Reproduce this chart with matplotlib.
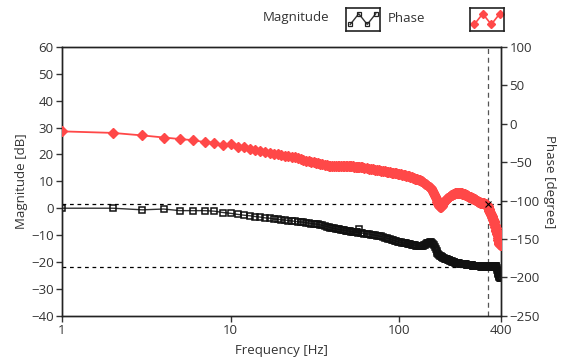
import matplotlib
matplotlib.use("Agg")
import matplotlib.pyplot as plt
import numpy as np

plt.rcParams['font.family'] = ['Open Sans', 'DejaVu Sans']

# measured frequency points [Hz]
freq = list(range(1, 61)) + list(range(62, 401, 2))

# magnitude [dB]
magnitude = [
    0.0, 0.0, -0.6, -0.3, -0.9, -0.9, -0.9, -1.1, -1.6, -1.9,
    -2.3, -2.6, -2.8, -3.1, -3.3, -3.6, -3.7, -4.0, -4.1, -4.3,
    -4.4, -4.6, -4.7, -4.9, -5.0, -5.1, -5.2, -5.4, -5.5, -5.7,
    -5.8, -5.9, -6.0, -6.2, -6.4, -6.6, -6.8, -7.0, -7.2, -7.4,
    -7.5, -7.6, -7.8, -7.9, -8.0, -8.1, -8.2, -8.3, -8.4, -8.5,
    -8.6, -8.7, -8.8, -8.9, -9.0, -9.0, -9.1, -7.6, -9.2, -9.3,
    # 62 .. 400 Hz, 2 Hz steps
    -9.4, -9.5, -9.6, -9.8, -9.9, -10.1, -10.2, -10.4, -10.5, -10.7,
    -10.9, -11.1, -11.3, -11.5, -11.7, -11.9, -12.1, -12.3, -12.4, -12.6,
    -12.7, -12.8, -12.9, -13.0, -13.1, -13.2, -13.3, -13.4, -13.5, -13.6,
    -13.7, -13.8, -13.9, -14.0, -14.0, -14.1, -14.1, -14.0, -13.9, -13.7,
    -13.5, -13.3, -13.1, -12.9, -12.8, -12.7, -12.6, -12.8, -13.2, -13.8,
    -14.5, -15.2, -15.9, -16.5, -17.0, -17.3, -17.6, -17.8, -18.0, -18.2,
    -18.4, -18.5, -18.7, -18.8, -18.9, -19.0, -19.2, -19.3, -19.4, -19.5,
    -19.7, -19.8, -19.9, -20.0, -20.0, -20.1, -20.2, -20.2, -20.3, -20.3,
    -20.4, -20.5, -20.5, -20.6, -20.6, -20.7, -20.7, -20.7, -20.8, -20.8,
    -20.8, -20.9, -20.9, -20.9, -21.0, -21.0, -21.0, -21.1, -21.1, -21.1,
    -21.1, -21.2, -21.2, -21.2, -21.2, -21.3, -21.3, -21.3, -21.3, -21.4,
    -21.4, -21.4, -21.4, -21.5, -21.5, -21.5, -21.5, -21.6, -21.6, -21.6,
    -21.6, -21.7, -21.6, -21.7, -21.7, -21.6, -21.5, -21.5, -21.4, -21.5,
    -21.5, -21.6, -21.6, -21.7, -21.7, -21.6, -21.5, -21.6, -21.6, -21.7,
    -21.7, -21.8, -21.8, -21.7, -21.6, -21.5, -21.5, -21.4, -21.5, -21.5,
    -21.6, -21.6, -21.5, -21.4, -21.4, -21.5, -21.6, -21.8, -22.2, -22.8,
    -23.4, -24.0, -24.6, -25.0, -25.3, -25.5, -25.7, -25.8, -25.9, -26.0,
]

# phase [degree]
phase = [
    -10.0, -12.0, -15.3, -18.0, -20.0, -21.5, -24.0, -24.5, -27.5, -27.0,
    -30.0, -30.5, -33.0, -34.0, -35.5, -37.0, -37.8, -39.0, -39.6, -41.0,
    -41.8, -42.5, -43.6, -44.0, -45.2, -46.0, -46.8, -48.0, -48.6, -49.5,
    -50.0, -50.6, -51.3, -52.0, -52.6, -53.4, -54.0, -54.5, -54.8, -55.0,
    -55.0, -55.1, -55.0, -55.0, -55.1, -55.0, -55.2, -55.2, -55.3, -55.4,
    -55.5, -55.6, -55.7, -55.9, -56.0, -56.2, -56.4, -56.6, -56.8, -57.0,
    # 62 .. 400 Hz, 2 Hz steps
    -57.5, -58.0, -58.5, -59.0, -59.6, -60.0, -60.4, -60.8, -61.2, -61.6,
    -62.2, -62.8, -63.0, -63.4, -63.6, -64.0, -64.3, -64.6, -65.0, -65.5,
    -66.0, -66.4, -66.8, -67.2, -67.8, -68.2, -68.6, -69.2, -69.6, -70.2,
    -70.8, -71.4, -72.0, -72.6, -73.2, -73.6, -74.2, -75.0, -76.0, -77.0,
    -78.0, -79.0, -80.0, -81.0, -81.8, -82.5, -84.0, -86.5, -89.0, -91.5,
    -94.0, -96.5, -99.5, -102.5, -105.0, -107.0, -108.5, -108.0, -106.5, -105.0,
    -103.5, -102.0, -100.5, -99.0, -98.0, -97.0, -96.2, -95.5, -94.8, -94.0,
    -93.4, -92.8, -92.2, -91.6, -91.2, -91.0, -90.8, -90.6, -90.5, -90.4,
    -90.3, -90.3, -90.2, -90.4, -90.6, -90.5, -90.7, -90.9, -91.0, -91.2,
    -91.6, -92.0, -92.4, -92.8, -93.2, -93.6, -94.0, -94.4, -94.8, -95.2,
    -95.6, -96.0, -96.3, -96.6, -96.9, -97.2, -97.5, -97.8, -98.2, -98.6,
    -99.0, -99.4, -99.8, -100.2, -100.6, -101.0, -101.4, -101.6, -102.0, -102.2,
    -102.6, -103.2, -103.0, -103.4, -103.6, -103.2, -103.8, -104.0, -103.6, -104.2,
    -104.8, -104.4, -105.0, -105.6, -106.0, -106.4, -107.5, -109.0, -110.5, -112.0,
    -113.5, -115.0, -116.5, -118.0, -119.0, -120.0, -121.0, -122.0, -123.5, -125.0,
    -126.5, -128.0, -130.0, -132.0, -134.0, -136.0, -138.0, -140.0, -142.0, -144.0,
    -146.5, -149.0, -151.5, -153.5, -155.0, -156.0, -157.0, -157.5, -158.0, -158.5,
]

# cursor positions
cursor_freq = 333
cursor_mag = -22
cursor_phase = -104.5

red = '#ff4848'
txt = '#333333'

fig = plt.figure(figsize=(5.62, 3.63), dpi=100)
ax = fig.add_axes([0.1103, 0.1300, 0.7811, 0.7410])
ax2 = ax.twinx()

ax.plot(freq, magnitude, color='#333333', lw=1.0, marker='s', ms=4.2,
        mfc='none', mec='#111111', mew=1.1, zorder=3)
ax2.plot(freq, phase, color=red, lw=1.3, marker='D', ms=4.9,
         mfc=red, mec=red, zorder=3)

# cursors
ax.axhline(cursor_mag, color='black', lw=0.9, ls=(0, (3, 3)), zorder=2)
ax2.axhline(cursor_phase, color='black', lw=0.9, ls=(0, (3, 3)), zorder=2)
ax.axvline(cursor_freq, color='#555555', lw=0.9, ls=(0, (4, 3)), zorder=2)
ax2.plot([cursor_freq], [cursor_phase], marker='x', color='black', ms=4, mew=0.8, zorder=4)

ax.set_xscale('log')
ax.set_xlim(1, 400)
ax.set_xticks([1, 10, 100, 400])
ax.set_xticklabels(['1', '10', '100', '400'])
ax.xaxis.set_minor_locator(matplotlib.ticker.NullLocator())

ax.set_ylim(-40, 60)
ax.set_yticks(np.arange(-40, 61, 10))
ax2.set_ylim(-250, 100)
ax2.set_yticks(np.arange(-250, 101, 50))

for a in (ax, ax2):
    a.tick_params(labelsize=9.5, labelcolor=txt, length=4, width=1, color='#333333', pad=2)
    for s in a.spines.values():
        s.set_color('#222222')
        s.set_linewidth(1.0)

ax.set_xlabel('Frequency [Hz]', fontsize=9.5, color=txt, labelpad=5)
ax.set_ylabel('Magnitude [dB]', fontsize=9.5, color=txt, labelpad=2)
ax2.set_ylabel('Phase [degree]', fontsize=9.5, color=txt, rotation=270, labelpad=12)

# legend at the top: text labels with small sample boxes
fig.text(263 / 562, 1 - 18 / 363, 'Magnitude', fontsize=9.5, color=txt, va='center', ha='left')
fig.text(388 / 562, 1 - 18 / 363, 'Phase', fontsize=9.5, color=txt, va='center', ha='left')

icon_x = [0, 1, 2, 3]
icon_y = [0.2, 0.85, 0.2, 0.85]

lg1 = fig.add_axes([346 / 562, 1 - 31 / 363, 34 / 562, 23 / 363])
lg1.plot(icon_x, icon_y, color='#333333', lw=1.0, marker='s', ms=3.2,
         mfc='none', mec='#222222', mew=0.9)
lg2 = fig.add_axes([470 / 562, 1 - 31 / 363, 34 / 562, 23 / 363])
lg2.plot(icon_x, icon_y, color=red, lw=1.2, marker='D', ms=3.6, mfc=red, mec=red)
for lg in (lg1, lg2):
    lg.set_xlim(-0.5, 3.5)
    lg.set_ylim(-0.2, 1.2)
    lg.set_xticks([])
    lg.set_yticks([])
    for s in lg.spines.values():
        s.set_color('#222222')
        s.set_linewidth(1.2)

fig.savefig('out.png', dpi=100)
